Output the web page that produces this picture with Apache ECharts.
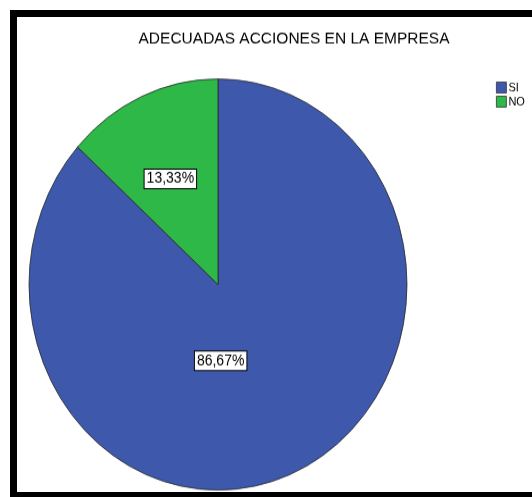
<!DOCTYPE html>
<html>
<head>
<meta charset="utf-8">
<script src="https://cdn.jsdelivr.net/npm/echarts@6/dist/echarts.min.js"></script>
<style>
html,body{margin:0;padding:0;background:#fff;width:532px;height:497px;overflow:hidden;}
#frame{position:absolute;left:10px;top:10px;width:600px;height:475px;border-left:7px solid #000;border-top:7px solid #000;border-bottom:7px solid #000;}
#chart{position:absolute;left:0;top:0;width:532px;height:457px;transform:scaleY(1.0875);transform-origin:0 0;}
</style>
</head>
<body>
<div id="frame"></div>
<div id="chart"></div>
<script>
const titleText = 'ADECUADAS ACCIONES EN LA EMPRESA';
const categories = ['SI', 'NO'];
const values = [86.67, 13.33];
const labels = ['86,67%', '13,33%'];
const colors = ['#3E58AC', '#2EB848'];
const labelOffsets = [[-37, -19], [-8, -8]];

const chart = echarts.init(document.getElementById('chart'), null, {renderer: 'canvas'});
const data = categories.map((c, i) => ({
  name: c,
  value: values[i],
  itemStyle: {color: colors[i]},
  label: {offset: labelOffsets[i]}
}));
chart.setOption({
  backgroundColor: 'transparent',
  animation: false,
  title: {
    text: titleText,
    left: 289,
    top: 23,
    textAlign: 'center',
    textStyle: {fontFamily: 'Liberation Sans', fontSize: 15.5, fontWeight: 'normal', color: '#000'}
  },
  legend: {
    orient: 'vertical',
    left: 491,
    top: 70,
    itemWidth: 10,
    itemHeight: 10,
    itemGap: 2,
    icon: 'rect',
    selectedMode: false,
    itemStyle: {borderColor: '#333', borderWidth: 0.8},
    textStyle: {fontFamily: 'Liberation Sans', fontSize: 11, color: '#000', padding: [0, 0, 0, -3]},
    data: categories
  },
  series: [{
    type: 'pie',
    center: [218, 261.6],
    radius: 189,
    startAngle: 90,
    clockwise: true,
    data: data,
    itemStyle: {borderColor: '#2a2a2a', borderWidth: 0.8},
    emphasis: {disabled: true},
    labelLine: {show: false},
    label: {
      show: true,
      position: 'inside',
      formatter: p => labels[p.dataIndex],
      fontFamily: 'Liberation Sans',
      fontSize: 14,
      color: '#000',
      backgroundColor: '#fff',
      borderColor: '#000',
      borderWidth: 1,
      padding: [2, 2, 1, 2]
    }
  }]
});
</script>
</body>
</html>
